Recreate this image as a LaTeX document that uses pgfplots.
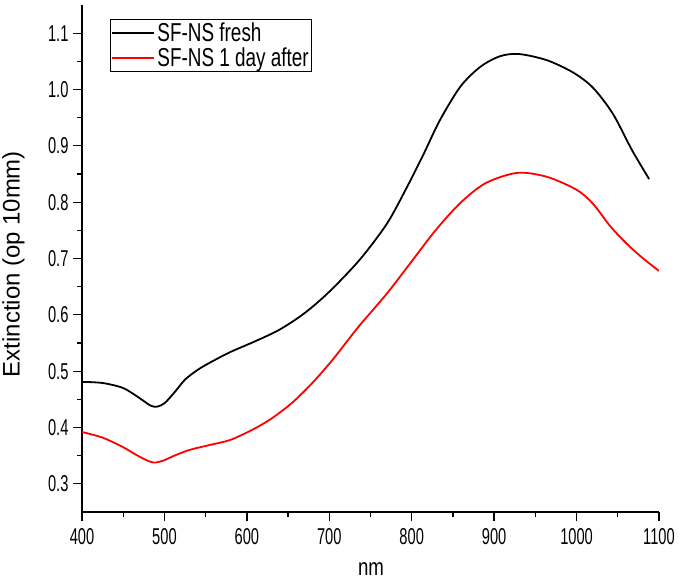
\documentclass[border=0pt]{standalone}
\usepackage{pgfplots}
\pgfplotsset{compat=1.18}
\usepackage{graphicx}
\usepackage{fontspec}
\setmainfont{Liberation Sans}

\begin{document}
\begin{tikzpicture}
\begin{axis}[
    name=ax,
    scale only axis,
    width=577bp, height=507bp,
    xmin=400, xmax=1100,
    ymin=0.25, ymax=1.15,
    axis x line*=bottom,
    axis y line*=left,
    axis line style={line width=1.6bp, -},
    xtick={400,500,600,700,800,900,1000,1100},
    ytick={0.3,0.4,0.5,0.6,0.7,0.8,0.9,1.0,1.1},
    minor x tick num=1,
    minor y tick num=1,
    tick align=outside,
    major tick length=9bp,
    minor tick length=5bp,
    every tick/.style={line width=1.3bp, black},
    /pgf/number format/assume math mode=true,
    /pgf/number format/set thousands separator={},
    tick label style={font=\fontsize{23}{25}\selectfont},
    xticklabel style={yshift=-4bp},
    yticklabel style={xshift=-1bp},
    xticklabel={\scalebox{0.64}[1]{\pgfmathprintnumber{\tick}}},
    yticklabel={\scalebox{0.64}[1]{\pgfmathprintnumber[fixed,fixed zerofill,precision=1]{\tick}}},
    every axis y label/.style={at={(axis description cs:-0.119,0.489)}, rotate=90, anchor=center, font=\fontsize{24}{26}\selectfont},
    every axis x label/.style={at={(axis description cs:0.501,0)}, anchor=base, yshift=-63bp, font=\fontsize{24}{26}\selectfont},
    ylabel={Extinction (op 10mm)},
    xlabel={\scalebox{0.78}[1]{nm}},
    legend style={at={(axis description cs:0.0485,0.972)}, anchor=north west,
        draw=black, line width=1bp, font=\fontsize{26}{28}\selectfont,
        inner xsep=1bp, inner ysep=1bp, row sep=1bp},
    legend cell align=left,
    legend image code/.code={\draw[#1, line width=2bp] (0bp,0bp) -- (42bp,0bp);},
]
\addplot[black, line width=1.8bp, smooth] coordinates {
(400,0.481) (425,0.479) (450,0.470) (470,0.452) (483,0.439) (491,0.437)
(500,0.443) (512,0.462) (525,0.485) (540,0.502) (555,0.515) (580,0.534)
(610,0.553) (640,0.574) (670,0.603) (700,0.641) (737,0.698) (770,0.762)
(794,0.826) (814,0.884) (834,0.945) (859,1.005) (883,1.040) (907,1.059)
(930,1.063) (964,1.052) (996,1.030) (1020,1.003) (1044,0.957) (1067,0.893)
(1088,0.841)
};
\addlegendentry{\scalebox{0.73}[1]{SF-NS fresh}}
\addplot[red, line width=1.8bp, smooth] coordinates {
(400,0.392) (425,0.382) (450,0.365) (470,0.348) (486,0.338) (498,0.341)
(512,0.350) (530,0.360) (555,0.369) (580,0.378) (608,0.397) (630,0.416)
(655,0.444) (680,0.480) (705,0.522) (735,0.578) (770,0.638) (800,0.695)
(830,0.752) (860,0.800) (890,0.834) (928,0.852) (964,0.845) (1000,0.822)
(1020,0.797) (1041,0.757) (1061,0.726) (1080,0.701) (1100,0.678)
};
\addlegendentry{\scalebox{0.73}[1]{SF-NS 1 day after}}
\end{axis}
\pgfresetboundingbox
\path[use as bounding box] ([xshift=-82bp,yshift=-68bp]ax.south west) rectangle ([xshift=19bp,yshift=5bp]ax.north east);
\end{tikzpicture}
\end{document}
